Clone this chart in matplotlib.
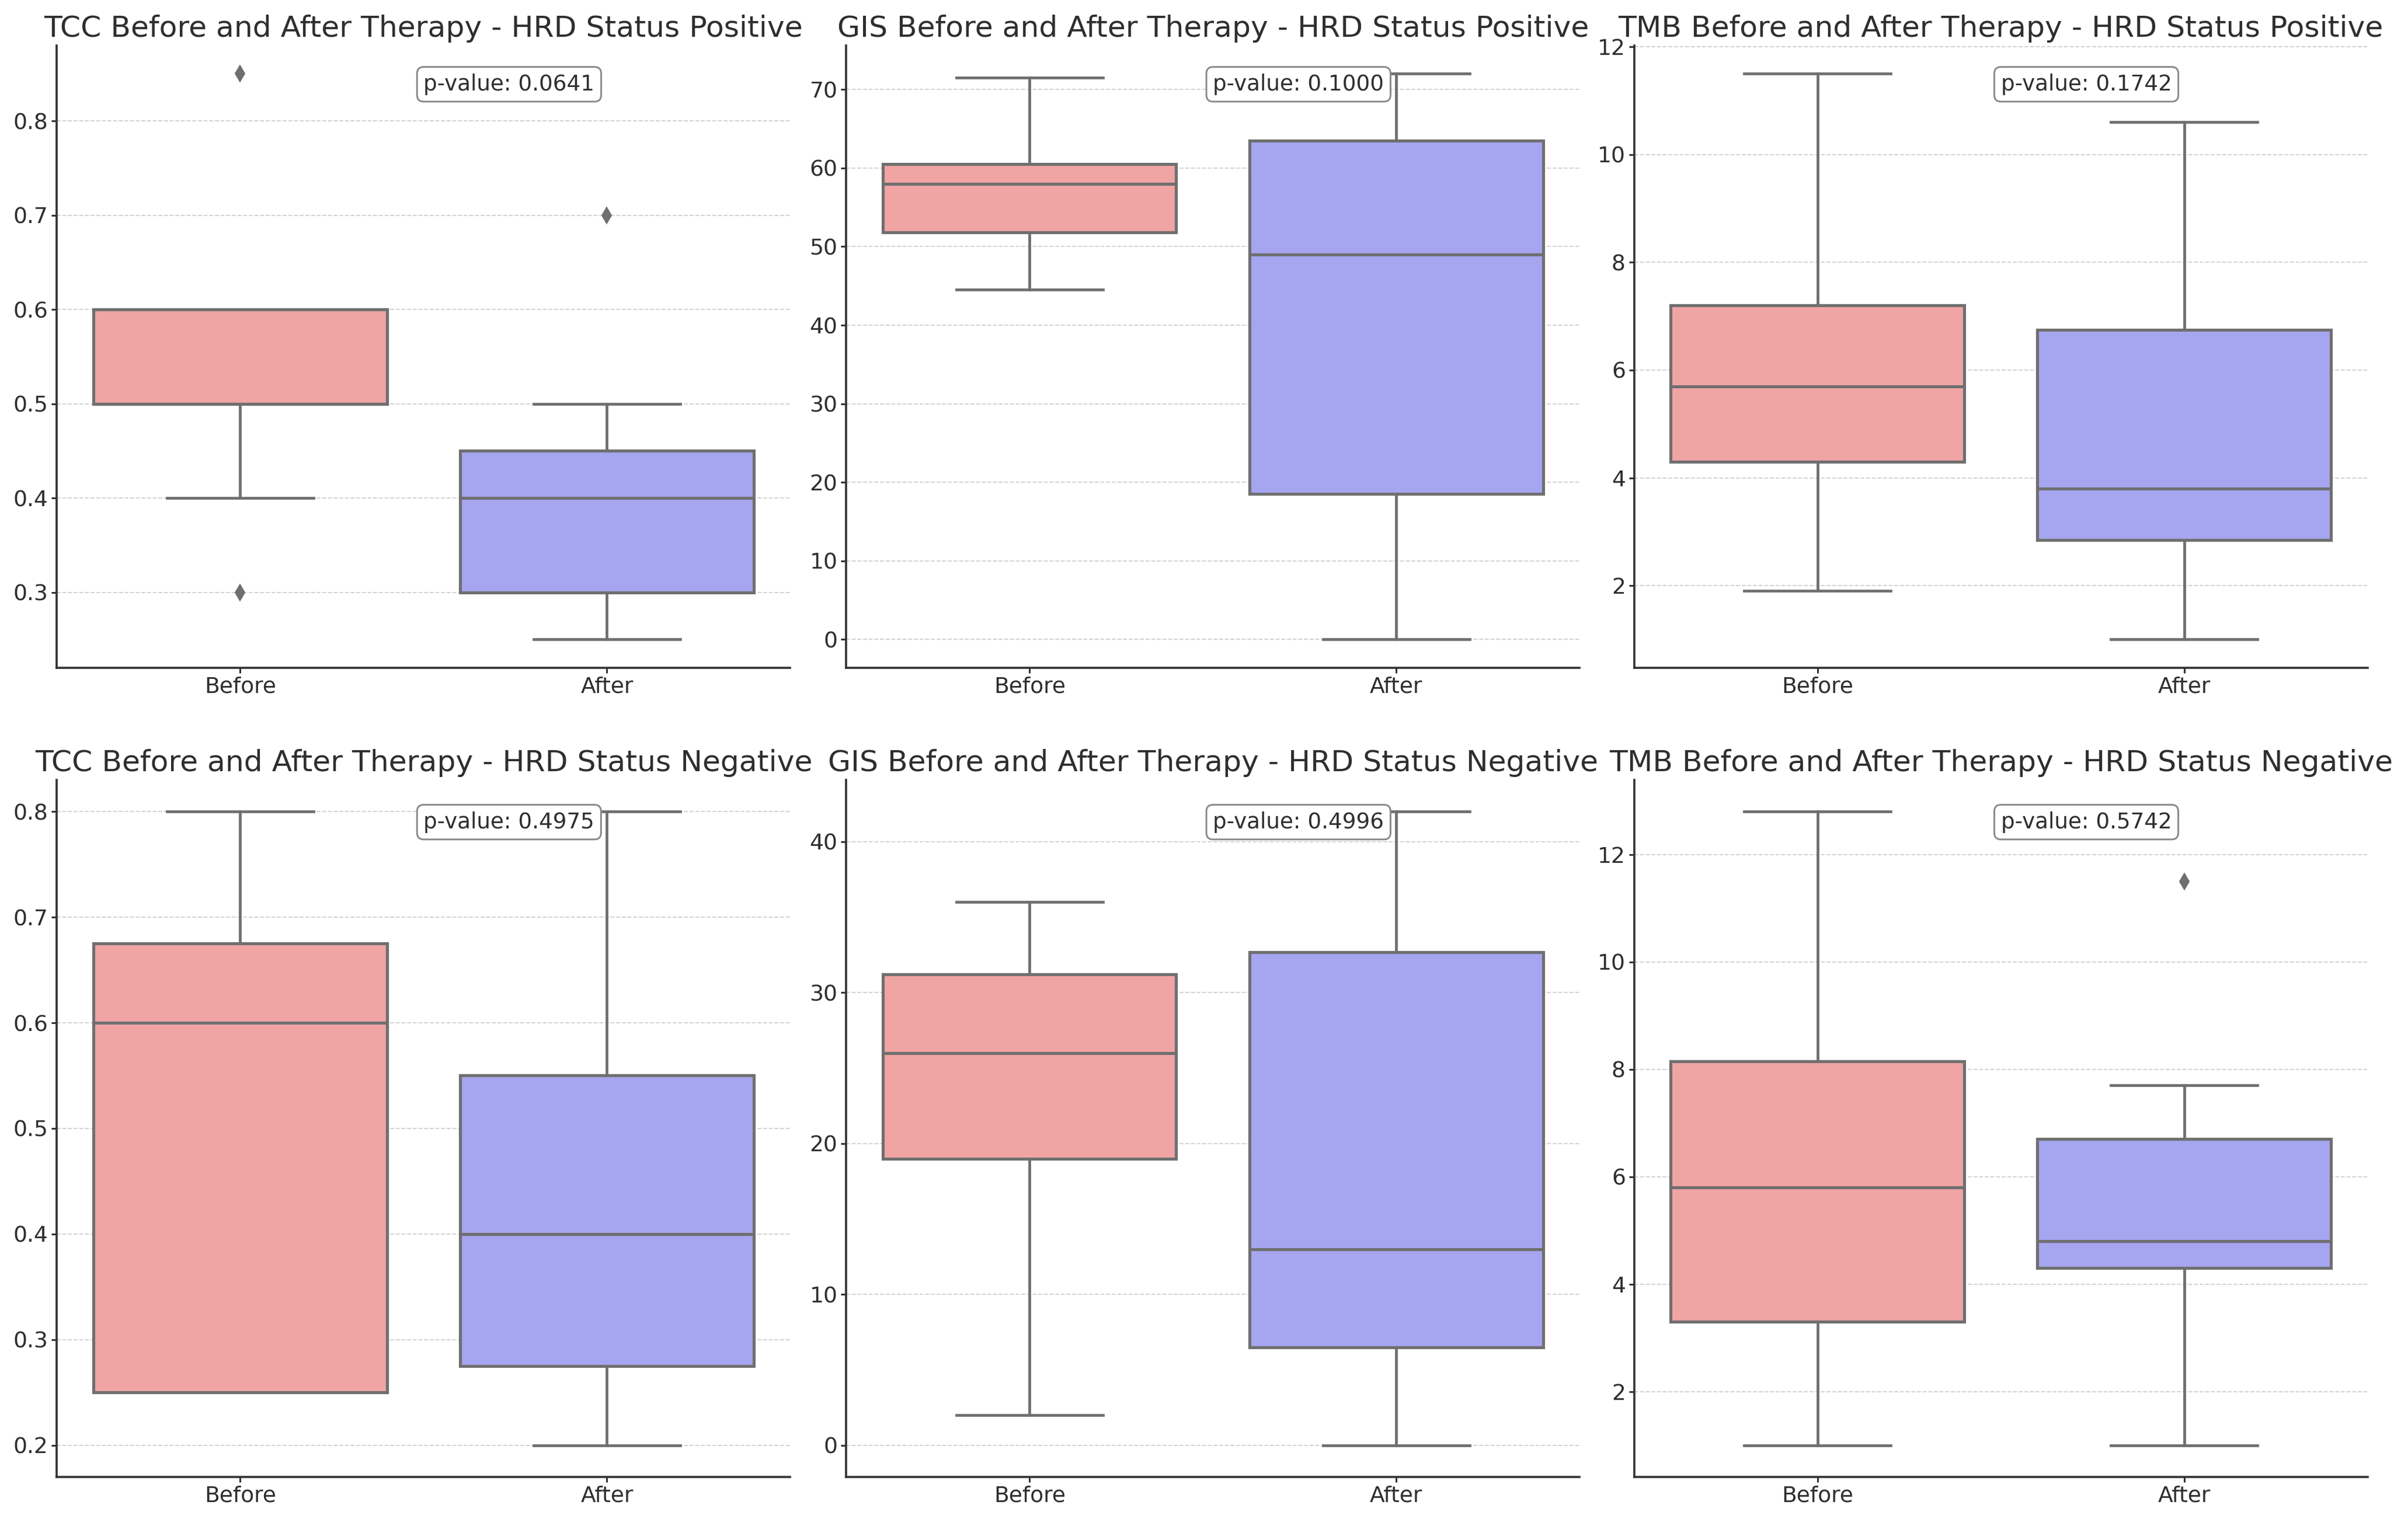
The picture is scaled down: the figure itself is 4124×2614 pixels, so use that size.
import matplotlib
matplotlib.use("Agg")
import matplotlib.pyplot as plt

plt.rcParams['font.family'] = ['DejaVu Sans']

groups = ["Before", "After"]
metrics = ["TCC", "GIS", "TMB"]
statuses = ["Positive", "Negative"]

# five-number summaries: whisker low, Q1, median, Q3, whisker high
tcc_pos_before = [0.40, 0.50, 0.50, 0.60, 0.60]
tcc_pos_before_fliers = [0.30, 0.85]
tcc_pos_after = [0.25, 0.30, 0.40, 0.45, 0.50]
tcc_pos_after_fliers = [0.70]

gis_pos_before = [44.5, 51.8, 58.0, 60.5, 71.5]
gis_pos_before_fliers = []
gis_pos_after = [0.0, 18.5, 49.0, 63.5, 72.0]
gis_pos_after_fliers = []

tmb_pos_before = [1.9, 4.3, 5.7, 7.2, 11.5]
tmb_pos_before_fliers = []
tmb_pos_after = [1.0, 2.85, 3.8, 6.75, 10.6]
tmb_pos_after_fliers = []

tcc_neg_before = [0.25, 0.25, 0.60, 0.675, 0.80]
tcc_neg_before_fliers = []
tcc_neg_after = [0.20, 0.275, 0.40, 0.55, 0.80]
tcc_neg_after_fliers = []

gis_neg_before = [2.0, 19.0, 26.0, 31.2, 36.0]
gis_neg_before_fliers = []
gis_neg_after = [0.0, 6.5, 13.0, 32.7, 42.0]
gis_neg_after_fliers = []

tmb_neg_before = [1.0, 3.3, 5.8, 8.15, 12.8]
tmb_neg_before_fliers = []
tmb_neg_after = [1.0, 4.3, 4.8, 6.7, 7.7]
tmb_neg_after_fliers = [11.5]

p_values = {
    ("TCC", "Positive"): 0.0641, ("GIS", "Positive"): 0.1000, ("TMB", "Positive"): 0.1742,
    ("TCC", "Negative"): 0.4975, ("GIS", "Negative"): 0.4996, ("TMB", "Negative"): 0.5742,
}

summaries = {
    ("TCC", "Positive"): [(tcc_pos_before, tcc_pos_before_fliers), (tcc_pos_after, tcc_pos_after_fliers)],
    ("GIS", "Positive"): [(gis_pos_before, gis_pos_before_fliers), (gis_pos_after, gis_pos_after_fliers)],
    ("TMB", "Positive"): [(tmb_pos_before, tmb_pos_before_fliers), (tmb_pos_after, tmb_pos_after_fliers)],
    ("TCC", "Negative"): [(tcc_neg_before, tcc_neg_before_fliers), (tcc_neg_after, tcc_neg_after_fliers)],
    ("GIS", "Negative"): [(gis_neg_before, gis_neg_before_fliers), (gis_neg_after, gis_neg_after_fliers)],
    ("TMB", "Negative"): [(tmb_neg_before, tmb_neg_before_fliers), (tmb_neg_after, tmb_neg_after_fliers)],
}

fill_colors = ["#F0A4A4", "#A5A5F0"]
line_color = "#6F6F6F"
text_color = "#2E2E2E"

W, H = 4124, 2614
DPI = 263
fig = plt.figure(figsize=(W / DPI, H / DPI), dpi=DPI)

col_lefts = [0.0236, 0.3514, 0.6786]
col_width = 0.3046
row_bottoms = [0.5624, 0.0322]
row_height = [0.4078, 0.4567]

for r, status in enumerate(statuses):
    for c, metric in enumerate(metrics):
        ax = fig.add_axes([col_lefts[c], row_bottoms[r], col_width, row_height[r]])
        stats = []
        for (five, fl), lab in zip(summaries[(metric, status)], groups):
            stats.append(dict(whislo=five[0], q1=five[1], med=five[2], q3=five[3],
                              whishi=five[4], fliers=fl, label=lab))
        bp = ax.bxp(stats, positions=[0, 1], widths=0.8, patch_artist=True,
                    showfliers=True,
                    boxprops=dict(edgecolor=line_color, linewidth=1.4),
                    medianprops=dict(color=line_color, linewidth=1.4),
                    whiskerprops=dict(color=line_color, linewidth=1.3),
                    capprops=dict(color=line_color, linewidth=1.3),
                    flierprops=dict(marker="d", markerfacecolor=line_color,
                                    markeredgecolor=line_color, markersize=4.5),
                    capwidths=0.4, zorder=2)
        for patch, col in zip(bp["boxes"], fill_colors):
            patch.set_facecolor(col)
        ax.set_xlim(-0.5, 1.5)
        ax.set_axisbelow(True)
        ax.yaxis.grid(True, linestyle="--", linewidth=0.5, color="#CFCFCF")
        for s in ["top", "right"]:
            ax.spines[s].set_visible(False)
        for s in ["left", "bottom"]:
            ax.spines[s].set_color("#333333")
            ax.spines[s].set_linewidth(1.0)
        ax.tick_params(axis="both", labelsize=10.3, colors=text_color, length=2.5,
                       width=0.8, pad=1.5)
        ax.set_title(f"{metric} Before and After Therapy - HRD Status {status}",
                     fontsize=13.8, color=text_color, pad=4)
        ax.text(0.5, 0.955, f"p-value: {p_values[(metric, status)]:.4f}",
                transform=ax.transAxes, ha="left", va="top", fontsize=10.2, color=text_color,
                bbox=dict(boxstyle="round,pad=0.3", facecolor="white", edgecolor="#888888",
                          linewidth=0.8))

fig.savefig("out.png", dpi=DPI)
